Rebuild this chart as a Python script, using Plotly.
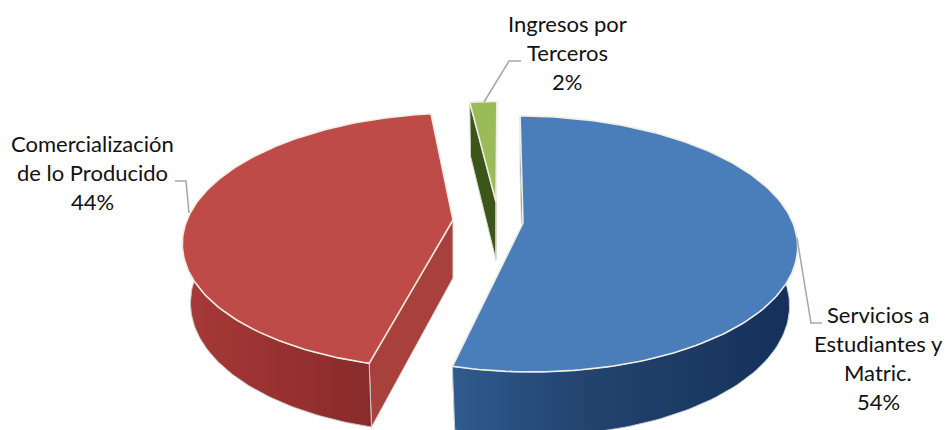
import numpy as np
import plotly.graph_objects as go

# Values from the chart, clockwise from the top
categories = ['Servicios a Estudiantes y Matric.', 'Comercialización de lo Producido', 'Ingresos por Terceros']
shares = [54, 44, 2]

# Label text, one list per line group
label_lines = [
    ['Servicios a', 'Estudiantes y', 'Matric.', '54%'],
    ['Comercialización', 'de lo Producido', '44%'],
    ['Ingresos por', 'Terceros', '2%'],
]
label_x = [878, 92, 567]
label_y = [314, 143, 23]
line_step = 29

# Exploded slice centres in pixels, and scale of each slice
apex_x = [523, 453, 496]
apex_y = [223, 220, 202]
slice_scale = [1.0, 1.0, 0.94]

top_colors = ['#4A7EBB', '#BE4B48', '#9BBB59']
wall_scales = [
    [[0, '#305B8E'], [0.35, '#234570'], [1, '#14305A']],
    [[0, '#A63A38'], [1, '#8A2A2A']],
    [[0, '#3C5518'], [1, '#34491A']],
]
side_colors = ['#1F3F68', '#A8403C', '#3C5518']

# Perspective of the disc
RX, RY, PERSP = 268, 124.5, 0.164
VIEW_X = 490
RIM_SHIFT = 2
DEPTH = 58
BOTTOM_X, BOTTOM_Y = 0.97, 1.04
START_ANGLE = 90


def rim(i, theta, bottom=False):
    c, s = np.cos(np.radians(theta)), np.sin(np.radians(theta))
    w = 1 + PERSP * s
    k = slice_scale[i]
    if bottom:
        x = VIEW_X + (apex_x[i] - VIEW_X + k * BOTTOM_X * RX * c + RIM_SHIFT) / w
        y = apex_y[i] + DEPTH - k * BOTTOM_Y * RY * s / w
    else:
        x = VIEW_X + (apex_x[i] - VIEW_X + k * RX * c + RIM_SHIFT) / w
        y = apex_y[i] - k * RY * s / w
    return x, y


def add_poly(fig, x, y, fill=None, gradient=None, line='#C8CDD2', width=1):
    kw = dict(fillcolor=fill) if fill else dict(
        fillgradient=dict(type='horizontal', colorscale=gradient))
    fig.add_trace(go.Scatter(
        x=list(x) + [x[0]], y=list(y) + [y[0]], mode='lines', fill='toself',
        line=dict(color=line, width=width), hoverinfo='skip', showlegend=False, **kw))


fig = go.Figure()

# Slice angles come from the shares
angles = []
a = START_ANGLE
for v in shares:
    angles.append((a, a - v * 3.6))
    a -= v * 3.6

# Draw order: far slices first
for i in [2, 1, 0]:
    a0, a1 = angles[i]
    # radial walls
    for t in (a0, a1):
        xt, yt = rim(i, t)
        xb, yb = rim(i, t, bottom=True)
        if i == 1 and t == a1:
            continue
        add_poly(fig, [apex_x[i], float(xt), float(xb), apex_x[i]],
                 [apex_y[i], float(yt), float(yb), apex_y[i] + DEPTH],
                 fill=side_colors[i], line='#D8D8D0')
    # outer wall, front half of the rim only
    hi, lo = min(a0, 0), max(a1, -180)
    if hi > lo:
        th = np.linspace(hi, lo, 80)
        xt, yt = rim(i, th)
        xb, yb = rim(i, th[::-1], bottom=True)
        add_poly(fig, np.r_[xt, xb], np.r_[yt, yb], gradient=wall_scales[i])
    # top face
    th = np.linspace(a0, a1, 160)
    xt, yt = rim(i, th)
    add_poly(fig, np.r_[apex_x[i], xt], np.r_[apex_y[i], yt],
             fill=top_colors[i], line='#F1EEE4', width=1.6)

# Leader lines
leaders = [
    'M 797 238 L 811 323 L 822 323',
    'M 189 213 L 186 181 L 175 181',
    'M 484 102 L 509 61 L 521 61',
]
shapes = [dict(type='path', path=p, line=dict(color='#A6A6A6', width=1.5)) for p in leaders]

annotations = []
for lines, lx, ly in zip(label_lines, label_x, label_y):
    for n, txt in enumerate(lines):
        annotations.append(dict(
            x=lx, y=ly + n * line_step, text=txt, showarrow=False,
            xanchor='center', yanchor='middle',
            font=dict(family='Lato', size=22, color='#111111')))

fig.update_layout(
    width=948, height=430, margin=dict(l=0, r=0, t=0, b=0),
    paper_bgcolor='white', plot_bgcolor='white',
    shapes=shapes, annotations=annotations, showlegend=False,
    xaxis=dict(range=[0, 948], visible=False),
    yaxis=dict(range=[430, 0], visible=False),
)

fig.write_html("out.html", config=dict(displayModeBar=False),
               post_script="document.body.style.margin='0';")
